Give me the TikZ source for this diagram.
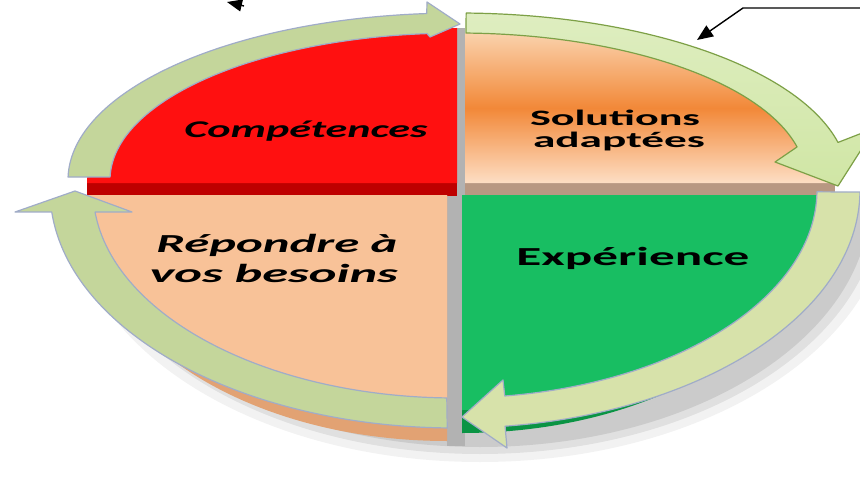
\documentclass[tikz,border=0pt]{standalone}
\usepackage{fontspec}
\setmainfont{Carlito}
\usetikzlibrary{arrows.meta}
\definecolor{redface}{RGB}{255,16,16}
\definecolor{redside}{RGB}{190,0,0}
\definecolor{peachface}{RGB}{248,194,152}
\definecolor{peachside}{RGB}{226,162,115}
\definecolor{greenface}{RGB}{24,190,98}
\definecolor{greenside}{RGB}{10,148,68}
\definecolor{orangetop}{RGB}{250,210,172}
\definecolor{orangemid}{RGB}{242,136,56}
\definecolor{orangebot}{RGB}{253,222,196}
\definecolor{brownside}{RGB}{184,152,130}
\definecolor{ringA}{RGB}{196,214,155}
\definecolor{ringB}{RGB}{208,230,165}
\definecolor{ringC}{RGB}{215,226,170}
\definecolor{bevel}{RGB}{160,172,200}
\definecolor{ringedgeB}{RGB}{125,160,70}
\newcommand\wtxt[2]{\resizebox{#1pt}{\height}{#2}}
\tikzset{
  lbl/.style={inner sep=0pt, anchor=base, text=black, font=\bfseries},
  ringpart/.style={draw=bevel, line width=1.2pt, line join=round},
  stray/.style={draw=black, line width=1.4pt}
}
\begin{document}
\begin{tikzpicture}[x=1pt,y=-1pt]
\useasboundingbox (0,0) rectangle (860,487);
\clip (0,0) rectangle (860,487);
\fill[white] (0,0) rectangle (860,487);

% soft shadow under the disc
\fill[black, opacity=0.05] (70,200) arc[start angle=180,end angle=0,x radius=410,y radius=262] -- cycle;
\fill[black, opacity=0.07] (80,200) arc[start angle=180,end angle=0,x radius=400,y radius=254] -- cycle;
\fill[black, opacity=0.09] (90,200) arc[start angle=180,end angle=0,x radius=390,y radius=247] -- cycle;

% gap shadow
\fill[gray!60] (447,28) rectangle (465,446);

% top-left quadrant (red)
\fill[redside] (87,183) rectangle (457,196);
\fill[redface] (457,183) -- (87,183) arc[start angle=180,end angle=270,x radius=370,y radius=155] -- cycle;

% top-right quadrant (orange gradient)
\fill[brownside] (465,183) rectangle (835,196);
\shade[top color=orangetop, bottom color=orangebot, middle color=orangemid]
  (465,183) -- (465,33) arc[start angle=270,end angle=360,x radius=370,y radius=150] -- cycle;

% bottom-left quadrant (peach)
\fill[peachside] (447,195) -- (87,195) -- (87,211) arc[start angle=180,end angle=90,x radius=360,y radius=230] -- cycle;
\fill[peachface] (447,195) -- (87,195) arc[start angle=180,end angle=90,x radius=360,y radius=228] -- cycle;

% bottom-right quadrant (green)
\fill[greenside] (462,195) -- (817,195) -- (817,211) arc[start angle=0,end angle=90,x radius=355,y radius=222] -- cycle;
\fill[greenface] (462,195) -- (817,195) arc[start angle=0,end angle=90,x radius=355,y radius=215] -- cycle;

% ring: top-left arrow
\fill[ringA, ringpart]
  ({458+390*cos(181)},{180+167*sin(181)})
  arc[start angle=181,end angle=265.4,x radius=390,y radius=167]
  -- (427,2) -- (460,24) -- (430,37)
  -- ({458+348*cos(264.9)},{180+147*sin(264.9)})
  arc[start angle=264.9,end angle=181.2,x radius=348,y radius=147] -- cycle;

% ring: top-right arrow
\shade[top color=ringB!70!white, bottom color=ringB, draw=ringedgeB, line width=1.2pt, line join=round]
  ({458+390*cos(271.2)},{180+167*sin(271.2)})
  arc[start angle=271.2,end angle=347,x radius=390,y radius=167]
  -- (875,128) -- (838,186) -- (775,162)
  -- ({458+348*cos(347)},{180+147*sin(347)})
  arc[start angle=347,end angle=271.3,x radius=348,y radius=147] -- cycle;

% ring: bottom-right arrow
\fill[ringC, ringpart]
  ({455+405*cos(0.5)},{190+238*sin(0.5)})
  arc[start angle=0.5,end angle=82.9,x radius=405,y radius=238]
  -- (507,448) -- (462,417) -- (503,380)
  -- ({455+362*cos(82.1)},{190+208*sin(82.1)})
  arc[start angle=82.1,end angle=0.5,x radius=362,y radius=208] -- cycle;

% ring: bottom-left arrow
\fill[ringA, ringpart]
  ({455+405*cos(91.1)},{190+238*sin(91.1)})
  arc[start angle=91.1,end angle=174.7,x radius=405,y radius=238]
  -- (15,212) -- (75,191) -- (132,212)
  -- ({455+362*cos(173.9)},{190+208*sin(173.9)})
  arc[start angle=173.9,end angle=91.3,x radius=362,y radius=208] -- cycle;

% labels
\node[lbl] (comp) at (306,137) {\wtxt{243}{\fontsize{24}{28}\selectfont\itshape Compétences}};
\node[lbl] (sol1) at (615,125) {\wtxt{170}{\fontsize{22}{26}\selectfont Solutions}};
\node[lbl] (sol2) at (619,147) {\wtxt{172}{\fontsize{22}{26}\selectfont adaptées}};
\node[lbl] (exp) at (633,265) {\wtxt{233}{\fontsize{26}{30}\selectfont Expérience}};
\node[lbl] (rep1) at (277,252) {\wtxt{241}{\fontsize{26}{30}\selectfont\itshape Répondre à}};
\node[lbl] (rep2) at (274,282) {\wtxt{248}{\fontsize{26}{30}\selectfont\itshape vos besoins}};

% stray arrows
\coordinate (a1s) at (244,6);
\coordinate (a1e) at (227,2);
\draw[stray, -{Triangle[length=15pt,width=12pt]}] (a1s) -- (a1e);
\coordinate (b0) at (862,8);
\coordinate (b1) at (743,8);
\coordinate (b2) at (697,40);
\draw[stray, -{Triangle[length=16pt,width=13pt]}] (b0) -- (b1) -- (b2);
\end{tikzpicture}
\end{document}
